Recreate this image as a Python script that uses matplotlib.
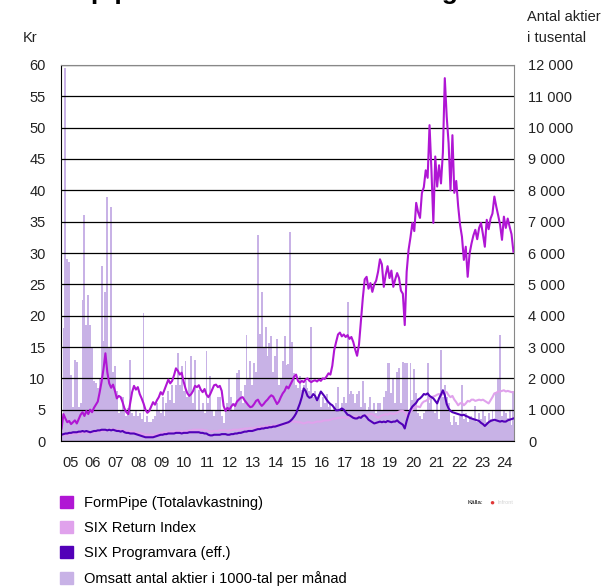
import pandas as pd
import matplotlib
matplotlib.use("Agg")
import matplotlib.pyplot as plt
from matplotlib.patches import Patch
from matplotlib.ticker import FuncFormatter

plt.rcParams['font.family'] = ['Liberation Sans', 'DejaVu Sans']

# monthly data, Feb 2005 - Nov 2024
months = pd.date_range("2005-02-01", "2024-11-01", freq="MS")
t = months.year + (months.month - 0.5) / 12

# Kr (left axis)
formpipe = [
    2.0, 4.3, 3.6, 3.0, 3.2, 2.7, 3.0, 3.3, 2.8, 3.5, 4.2,
    4.6, 4.0, 4.8, 4.3, 5.0, 4.6, 5.3, 5.8, 6.3, 7.8, 9.5, 11.5,
    14.0, 11.0, 9.2, 8.5, 9.0, 8.0, 6.8, 7.2, 7.0, 6.2, 5.2, 4.6,
    4.3, 6.0, 7.8, 8.8, 8.2, 8.6, 7.5, 6.8, 6.0, 5.0, 4.5, 4.8,
    5.5, 6.2, 5.8, 6.5, 7.0, 7.8, 7.4, 8.2, 9.0, 9.8, 9.2, 9.6,
    10.5, 11.6, 11.2, 10.6, 10.9, 9.5, 8.4, 7.6, 7.2, 7.5, 8.0, 8.8,
    8.6, 8.9, 8.2, 7.8, 8.3, 7.4, 7.0, 7.5, 8.2, 8.9, 9.0, 8.6,
    8.8, 8.0, 5.6, 4.8, 5.3, 5.0, 5.5, 5.9, 5.6, 6.3, 6.6, 6.9,
    7.0, 6.5, 6.1, 5.7, 5.4, 5.5, 5.9, 6.4, 6.6, 6.0, 5.6, 5.9,
    6.3, 6.6, 7.0, 7.3, 7.1, 6.5, 5.9, 6.3, 7.0, 7.6, 8.0, 8.7,
    8.4, 9.0, 9.6, 10.3, 10.6, 9.6, 9.3, 9.6, 9.4, 9.8, 10.0, 9.6,
    9.4, 9.6, 9.7, 9.5, 9.8, 9.6, 10.0, 9.9, 10.3, 10.8, 10.6, 12.0,
    14.5, 15.8, 17.0, 17.3, 16.7, 17.0, 16.6, 16.9, 16.3, 16.6, 15.8, 14.6,
    13.6, 15.4, 19.0, 22.8, 25.8, 26.2, 24.3, 25.2, 23.8, 25.0, 25.6, 27.0,
    29.0, 28.2, 24.6, 26.5, 27.9, 26.0, 27.2, 24.6, 25.8, 26.8, 26.0, 24.0,
    23.5, 18.5, 27.0, 30.5, 32.5, 34.8, 33.5, 38.0, 36.5, 35.6, 39.6, 40.5,
    43.2, 42.0, 50.4, 43.2, 34.8, 45.4, 40.6, 44.0, 41.1, 46.0, 57.9, 51.8,
    47.5, 40.0, 48.8, 39.6, 41.5, 37.5, 34.5, 32.6, 28.9, 31.0, 26.2, 29.9,
    31.5, 32.8, 33.7, 32.2, 34.0, 34.8, 33.0, 31.0, 35.3, 33.8, 35.5, 36.3,
    39.0, 37.4, 36.0, 34.5, 32.1, 35.8, 34.0, 35.5, 34.2, 33.0, 30.2,
]

six_return = [
    0.9, 1.0, 1.0, 1.0, 1.1, 1.1, 1.1, 1.2, 1.2, 1.2, 1.3,
    1.3, 1.4, 1.4, 1.3, 1.3, 1.4, 1.4, 1.5, 1.5, 1.6, 1.6, 1.7,
    1.7, 1.7, 1.8, 1.8, 1.9, 1.8, 1.8, 1.7, 1.7, 1.7, 1.6, 1.6,
    1.5, 1.5, 1.5, 1.5, 1.4, 1.3, 1.3, 1.2, 1.1, 1.0, 1.0, 1.0,
    1.0, 0.9, 1.0, 1.1, 1.2, 1.2, 1.3, 1.4, 1.4, 1.4, 1.5, 1.5,
    1.5, 1.6, 1.6, 1.6, 1.5, 1.5, 1.6, 1.6, 1.7, 1.7, 1.8, 1.8,
    1.8, 1.8, 1.8, 1.8, 1.7, 1.7, 1.6, 1.5, 1.5, 1.6, 1.6, 1.6,
    1.7, 1.7, 1.7, 1.7, 1.6, 1.7, 1.7, 1.8, 1.8, 1.8, 1.8, 1.9,
    1.9, 2.0, 2.0, 2.0, 2.1, 2.0, 2.1, 2.1, 2.2, 2.2, 2.3, 2.3,
    2.3, 2.4, 2.4, 2.4, 2.5, 2.5, 2.5, 2.6, 2.6, 2.6, 2.7, 2.8,
    2.9, 3.1, 3.1, 3.1, 3.1, 3.0, 3.0, 2.9, 2.8, 2.9, 3.0, 3.0,
    2.9, 2.9, 3.0, 3.1, 3.1, 3.1, 3.2, 3.3, 3.3, 3.3, 3.4, 3.5,
    3.6, 3.6, 3.7, 3.7, 3.8, 3.8, 3.7, 3.7, 3.8, 3.9, 3.9, 3.9,
    3.9, 3.9, 3.9, 4.0, 4.1, 4.1, 4.2, 4.3, 4.3, 4.1, 3.9, 3.7,
    3.9, 4.1, 4.2, 4.3, 4.2, 4.4, 4.4, 4.3, 4.4, 4.5, 4.7, 4.8,
    4.8, 4.6, 4.0, 4.4, 4.7, 5.0, 5.3, 5.5, 5.5, 5.4, 6.0, 6.3,
    6.4, 6.6, 6.8, 7.0, 7.1, 7.2, 7.4, 7.5, 7.2, 7.6, 7.8, 7.8,
    7.3, 7.0, 7.2, 6.6, 6.2, 5.7, 6.0, 6.1, 5.7, 6.0, 6.4, 6.3,
    6.6, 6.6, 6.4, 6.5, 6.6, 6.5, 6.6, 6.4, 6.2, 6.0, 6.5, 7.0,
    7.6, 7.7, 7.9, 7.9, 8.0, 8.1, 7.9, 8.0, 7.9, 7.8, 7.8,
]

six_prog = [
    1.0, 1.1, 1.2, 1.2, 1.3, 1.3, 1.4, 1.4, 1.4, 1.5, 1.5,
    1.6, 1.5, 1.6, 1.5, 1.4, 1.5, 1.6, 1.6, 1.7, 1.7, 1.8, 1.8,
    1.8, 1.7, 1.8, 1.7, 1.8, 1.7, 1.6, 1.6, 1.5, 1.6, 1.4, 1.3,
    1.3, 1.2, 1.2, 1.2, 1.1, 1.0, 0.9, 0.8, 0.7, 0.6, 0.6, 0.6,
    0.6, 0.6, 0.7, 0.8, 0.9, 1.0, 1.0, 1.1, 1.1, 1.2, 1.2, 1.2,
    1.2, 1.3, 1.3, 1.3, 1.2, 1.3, 1.3, 1.3, 1.4, 1.4, 1.4, 1.4,
    1.4, 1.4, 1.3, 1.3, 1.2, 1.2, 1.0, 0.9, 0.9, 1.0, 1.0, 1.0,
    1.0, 1.1, 1.1, 1.1, 1.0, 1.0, 1.1, 1.1, 1.2, 1.2, 1.3, 1.3,
    1.4, 1.5, 1.5, 1.6, 1.6, 1.6, 1.7, 1.8, 1.9, 1.9, 2.0, 2.0,
    2.1, 2.1, 2.2, 2.2, 2.3, 2.3, 2.4, 2.5, 2.6, 2.7, 2.8, 2.9,
    3.0, 3.2, 3.5, 3.9, 4.4, 5.2, 6.0, 7.0, 8.4, 8.0, 7.2, 6.9,
    7.0, 7.5, 7.2, 6.5, 7.2, 7.9, 7.5, 7.1, 6.6, 6.2, 5.9, 5.7,
    5.3, 4.9, 4.9, 5.0, 5.2, 5.0, 4.6, 4.2, 4.1, 3.9, 3.7, 3.6,
    3.6, 3.8, 3.7, 4.0, 4.1, 3.8, 3.4, 3.2, 3.0, 2.8, 2.9, 3.0,
    3.1, 3.0, 3.1, 3.0, 3.2, 3.1, 3.0, 3.1, 3.1, 3.3, 3.0, 2.8,
    2.6, 2.0, 3.2, 4.2, 5.0, 5.5, 5.8, 6.1, 6.6, 6.8, 7.1, 7.5,
    7.4, 7.6, 7.2, 7.0, 6.8, 6.4, 6.0, 6.8, 7.4, 8.1, 7.3, 5.9,
    5.2, 4.8, 4.6, 4.5, 4.4, 4.3, 4.2, 4.1, 4.2, 4.0, 3.9, 3.7,
    3.6, 3.5, 3.4, 3.3, 3.2, 2.9, 2.7, 2.4, 2.7, 3.0, 3.2, 3.3,
    3.4, 3.3, 3.2, 3.1, 3.2, 3.1, 3.1, 3.3, 3.4, 3.5, 3.6,
]

# thousands of shares per month (right axis)
volume = [
    600, 3600, 11900, 5800, 5700, 2100, 1100, 2580, 2520, 1100, 1200,
    4500, 7200, 3700, 4660, 3700, 3000, 1900, 1840, 1700, 2000, 5600, 3200,
    4760, 7800, 3000, 7480, 2200, 2400, 1600, 900, 1000, 1400, 1000, 800,
    1060, 2580, 900, 800, 1000, 800, 900, 700, 4080, 600, 800, 600,
    600, 700, 800, 1200, 1000, 900, 1400, 800, 1200, 1600, 1300, 1800,
    1200, 1800, 2800, 1800, 2380, 1600, 2540, 1400, 2000, 2720, 1200, 2600,
    1000, 1620, 1000, 1200, 900, 2860, 1200, 2060, 1000, 800, 1000, 1420,
    1400, 800, 580, 1000, 1200, 2000, 1420, 1000, 1200, 2160, 2260, 1600,
    1200, 1800, 3380, 2000, 2540, 1800, 2500, 2200, 6580, 3400, 4760, 3000,
    3640, 2700, 3120, 3340, 2200, 2700, 3240, 1800, 2000, 2540, 3360, 2440,
    2460, 6680, 3160, 2160, 1800, 1700, 2060, 1640, 1800, 1920, 1700, 1600,
    3640, 1400, 1600, 1300, 1500, 1100, 1400, 1200, 1500, 1080, 1200, 1000,
    1080, 1200, 1720, 1000, 1200, 1400, 1200, 4440, 1500, 1600, 1500, 1200,
    1500, 1600, 1100, 1920, 1200, 1000, 1100, 1400, 1000, 1200, 900, 1200,
    1200, 1000, 1400, 1600, 2480, 2480, 1520, 2000, 1200, 2200, 2320, 1200,
    2520, 2480, 2480, 1000, 2480, 1300, 2300, 1520, 900, 800, 700, 900,
    1000, 2480, 1200, 1400, 1000, 900, 1200, 700, 2920, 1400, 1800, 1400,
    1200, 600, 500, 800, 600, 500, 800, 1800, 700, 900, 600, 800,
    800, 700, 1120, 600, 900, 700, 1000, 800, 600, 900, 700, 1000,
    700, 1520, 2000, 3380, 800, 1000, 900, 740, 1000, 500, 1600,
]

year_labels = ["05", "06", "07", "08", "09", "10", "11", "12", "13", "14",
               "15", "16", "17", "18", "19", "20", "21", "22", "23", "24"]
legend_labels = ["FormPipe (Totalavkastning)", "SIX Return Index",
                 "SIX Programvara (eff.)", "Omsatt antal aktier i 1000-tal per månad"]

c_fp = "#b016d4"
c_ret = "#e0a2ec"
c_prog = "#5200b8"
c_vol = "#c8b2e6"

fig = plt.figure(figsize=(6.08, 5.86), dpi=100)
ax = fig.add_axes([0.1003, 0.2474, 0.7451, 0.6417])
ax2 = ax.twinx()

ax2.bar(t, volume, width=1 / 12, color=c_vol, linewidth=0)
ax.set_zorder(ax2.get_zorder() + 1)
ax.patch.set_visible(False)

ax.plot(t, six_return, color=c_ret, lw=1.5)
ax.plot(t, six_prog, color=c_prog, lw=1.5)
ax.plot(t, formpipe, color=c_fp, lw=1.5)

ax.set_xlim(2005.1, 2024.9)
ax.set_ylim(0, 60)
ax2.set_ylim(0, 12000)
ax.set_yticks(range(0, 61, 5))
ax2.set_yticks(range(0, 12001, 1000))
ax2.yaxis.set_major_formatter(FuncFormatter(lambda v, p: f"{int(v):,}".replace(",", " ")))
ax.set_xticks([2005.5 + i for i in range(len(year_labels))])
ax.set_xticklabels(year_labels)

ax.tick_params(axis="y", length=0, pad=11, labelsize=10.5, labelcolor="#222222")
ax.tick_params(axis="x", length=0, pad=11, labelsize=10.5, labelcolor="#222222")
ax2.tick_params(axis="y", length=0, pad=10, labelsize=10.5, labelcolor="#222222")

ax.grid(axis="y", color="black", lw=0.9)
ax.grid(axis="x", visible=False)
for sp in ax2.spines.values():
    sp.set_visible(False)
ax.spines["left"].set_color("black")
ax.spines["bottom"].set_color("black")
ax.spines["top"].set_color("#888888")
ax.spines["right"].set_color("#888888")

# title sits mostly above the visible area, as in the source image
fig.text(25 / 608, 1 + 1 / 586, "Formpipe Software kursutveckling",
         fontsize=19, fontweight="bold", va="baseline", ha="left")
fig.text(23 / 608, 1 - 38 / 586, "Kr", fontsize=10.5, va="center", color="#222222")
fig.text(527 / 608, 1 - 17 / 586, "Antal aktier", fontsize=10.5, va="center", color="#222222")
fig.text(527 / 608, 1 - 38 / 586, "i tusental", fontsize=10.5, va="center", color="#222222")

handles = [Patch(color=c) for c in [c_fp, c_ret, c_prog, c_vol]]
fig.legend(handles, legend_labels, loc="upper left", bbox_to_anchor=(60 / 608, 1 - 496 / 586),
           frameon=False, fontsize=10.5, handlelength=0.9, handleheight=0.9,
           handletextpad=0.75, labelspacing=0.74, borderpad=0, borderaxespad=0)

fig.text(467 / 608, 1 - 503 / 586, "Källa:", fontsize=4.5, va="center")
fig.text(489 / 608, 1 - 503 / 586, "●", fontsize=6, va="center", color="#e03838")
fig.text(497 / 608, 1 - 503 / 586, "Infront", fontsize=4, va="center", color="#d4d4d4")

fig.savefig("out.png", dpi=100)
